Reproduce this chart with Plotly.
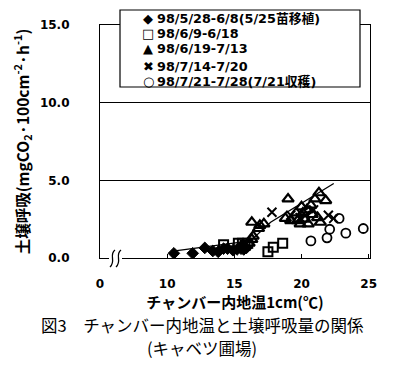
import plotly.graph_objects as go

# ---- data ----
series_names = [
    "98/5/28-6/8(5/25苗移植)",
    "98/6/9-6/18",
    "98/6/19-7/13",
    "98/7/14-7/20",
    "98/7/21-7/28(7/21収穫)",
]
legend_glyphs = ["◆", "□", "▲", "✖", "○"]
dia_x = [10.5, 11.9, 12.8, 13.4, 13.8, 14.2, 14.5, 14.9, 15.2, 15.5, 15.7, 15.9, 15.6]
dia_y = [0.3, 0.3, 0.65, 0.45, 0.4, 0.6, 0.6, 0.5, 0.55, 0.6, 0.55, 0.65, 0.8]
sq_x = [14.2, 15.3, 15.6, 16.0, 15.8, 17.5, 17.9, 18.6]
sq_y = [0.85, 0.95, 0.95, 0.95, 0.8, 0.4, 0.7, 0.95]
tri_x = [16.1, 16.3, 16.4, 16.3, 16.8, 17.2, 16.9, 19.0, 18.8, 19.2, 19.6, 19.9, 20.1,
         20.4, 20.5, 20.0, 20.7, 20.8, 21.2, 21.4, 21.3, 21.8, 21.0, 20.2, 19.7]
tri_y = [0.95, 1.2, 1.4, 2.3, 1.9, 2.2, 2.1, 3.8, 2.55, 2.4, 2.9, 2.2, 2.9,
         3.1, 2.2, 3.3, 3.4, 2.8, 2.6, 2.3, 4.2, 3.7, 3.8, 2.5, 2.4]
cross_x = [17.8, 19.2, 19.9, 20.3, 20.9, 22.0, 22.4]
cross_y = [2.95, 2.75, 2.6, 2.75, 3.1, 2.75, 2.55]
circ_x = [20.7, 21.9, 22.1, 22.8, 23.3, 24.6]
circ_y = [1.1, 1.3, 1.85, 2.55, 1.6, 1.9]
fit_x = [10.3, 16.2, 17.7, 22.4]
fit_y = [0.42, 1.1, 2.3, 4.8]

x_tickvals = [5, 10, 15, 20, 25]
x_ticktext = ["0", "10", "15", "20", "25"]
y_tickvals = [0, 5, 10, 15]
y_ticktext = ["0.0", "5.0", "10.0", "15.0"]

TICKF = "DejaVu Sans, Noto Sans CJK JP, sans-serif"
JP = "Noto Sans CJK JP, sans-serif"

fig = go.Figure()
fig.add_trace(go.Scatter(x=fit_x, y=fit_y, mode="lines",
                         line=dict(color="black", width=1.3), showlegend=False,
                         hoverinfo="skip"))
styles = [
    dict(symbol="diamond", size=9, color="black", line=dict(color="black", width=1)),
    dict(symbol="square-open", size=9, color="black", line=dict(color="black", width=2)),
    dict(symbol="triangle-up-open", size=10, color="black", line=dict(color="black", width=2.2)),
    dict(symbol="x-thin-open", size=9, color="black", line=dict(color="black", width=2)),
    dict(symbol="circle-open", size=9, color="black", line=dict(color="black", width=1.8)),
]
xs = [dia_x, sq_x, tri_x, cross_x, circ_x]
ys = [dia_y, sq_y, tri_y, cross_y, circ_y]
for name, st, x, y in zip(series_names, styles, xs, ys):
    fig.add_trace(go.Scatter(x=x, y=y, mode="markers", name=name, marker=st,
                             showlegend=False))

# plot area in screen pixels: x 100..370, y 25..258
def px(xp):
    return (xp - 100) / 270.0

def py(yp):
    return (258 - yp) / 233.0

shapes = []
# axis break
shapes.append(dict(type="rect", xref="paper", yref="paper", x0=px(109), x1=px(122),
                   y0=py(259.5), y1=py(256.5), fillcolor="white", line=dict(width=0),
                   layer="above"))
for cx in (112.5, 118.5):
    shapes.append(dict(type="path", xref="paper", yref="paper", layer="above",
                       path=(f"M {px(cx+2.5)} {py(250)} "
                             f"C {px(cx-4)} {py(255)}, {px(cx+4)} {py(261)}, {px(cx-2.5)} {py(267)}"),
                       line=dict(color="black", width=1.3)))
# legend box
shapes.append(dict(type="rect", xref="paper", yref="paper", x0=px(120), x1=px(360),
                   y0=py(87), y1=py(10), fillcolor="white",
                   line=dict(color="black", width=1.2), layer="above"))

annotations = []
line_y = [18, 33, 49, 66, 82]
for g, name, yy in zip(legend_glyphs, series_names, line_y):
    annotations.append(dict(text=g, xref="paper", yref="paper", x=px(148), y=py(yy),
                            xanchor="center", yanchor="middle", showarrow=False,
                            font=dict(family="DejaVu Sans, sans-serif", size=13,
                                      color="black", weight="bold")))
    annotations.append(dict(text=name, xref="paper", yref="paper", x=px(155), y=py(yy),
                            xanchor="left", yanchor="middle", showarrow=False,
                            font=dict(family=TICKF, size=12.8, color="black",
                                      weight="bold")))
annotations.append(dict(text="図3　チャンバー内地温と土壌呼吸量の関係",
                        xref="paper", yref="paper", x=px(202), y=py(325),
                        xanchor="center", yanchor="middle", showarrow=False,
                        font=dict(family=JP, size=16.5, color="black")))
annotations.append(dict(text="(キャベツ圃場)",
                        xref="paper", yref="paper", x=px(202), y=py(348),
                        xanchor="center", yanchor="middle", showarrow=False,
                        font=dict(family=JP, size=16.5, color="black")))

fig.update_layout(
    width=389, height=357,
    margin=dict(l=92, r=27, t=17, b=107),
    paper_bgcolor="white", plot_bgcolor="white",
    font=dict(family=TICKF, color="black", size=12),
    shapes=shapes,
    annotations=annotations,
    showlegend=False,
    xaxis=dict(range=[5, 25.1], tickvals=x_tickvals, ticktext=x_ticktext,
               ticks="inside", ticklen=4, tickcolor="black",
               showline=True, linecolor="black", linewidth=1.2, mirror=True,
               showgrid=False, zeroline=False, ticklabelstandoff=14,
               tickfont=dict(family=TICKF, size=12, weight="bold"),
               title=dict(text="チャンバー内地温1cm(℃)", standoff=2,
                          font=dict(family=JP, size=15, weight="bold"))),
    yaxis=dict(range=[0, 15], tickvals=y_tickvals, ticktext=y_ticktext,
               ticks="outside", ticklen=27, tickcolor="rgba(0,0,0,0)",
               showline=True, linecolor="black", linewidth=1.2, mirror=True,
               showgrid=True, gridcolor="black", gridwidth=1,
               zeroline=False, automargin=False,
               tickfont=dict(family=TICKF, size=12, weight="bold"),
               title=dict(text="土壌呼吸(mgCO<sub>2</sub>·100cm<sup>-2</sup>·h<sup>-1</sup>)",
                          standoff=6, font=dict(family=JP, size=15.5, weight="bold"))),
)

fig.write_html("out.html")
